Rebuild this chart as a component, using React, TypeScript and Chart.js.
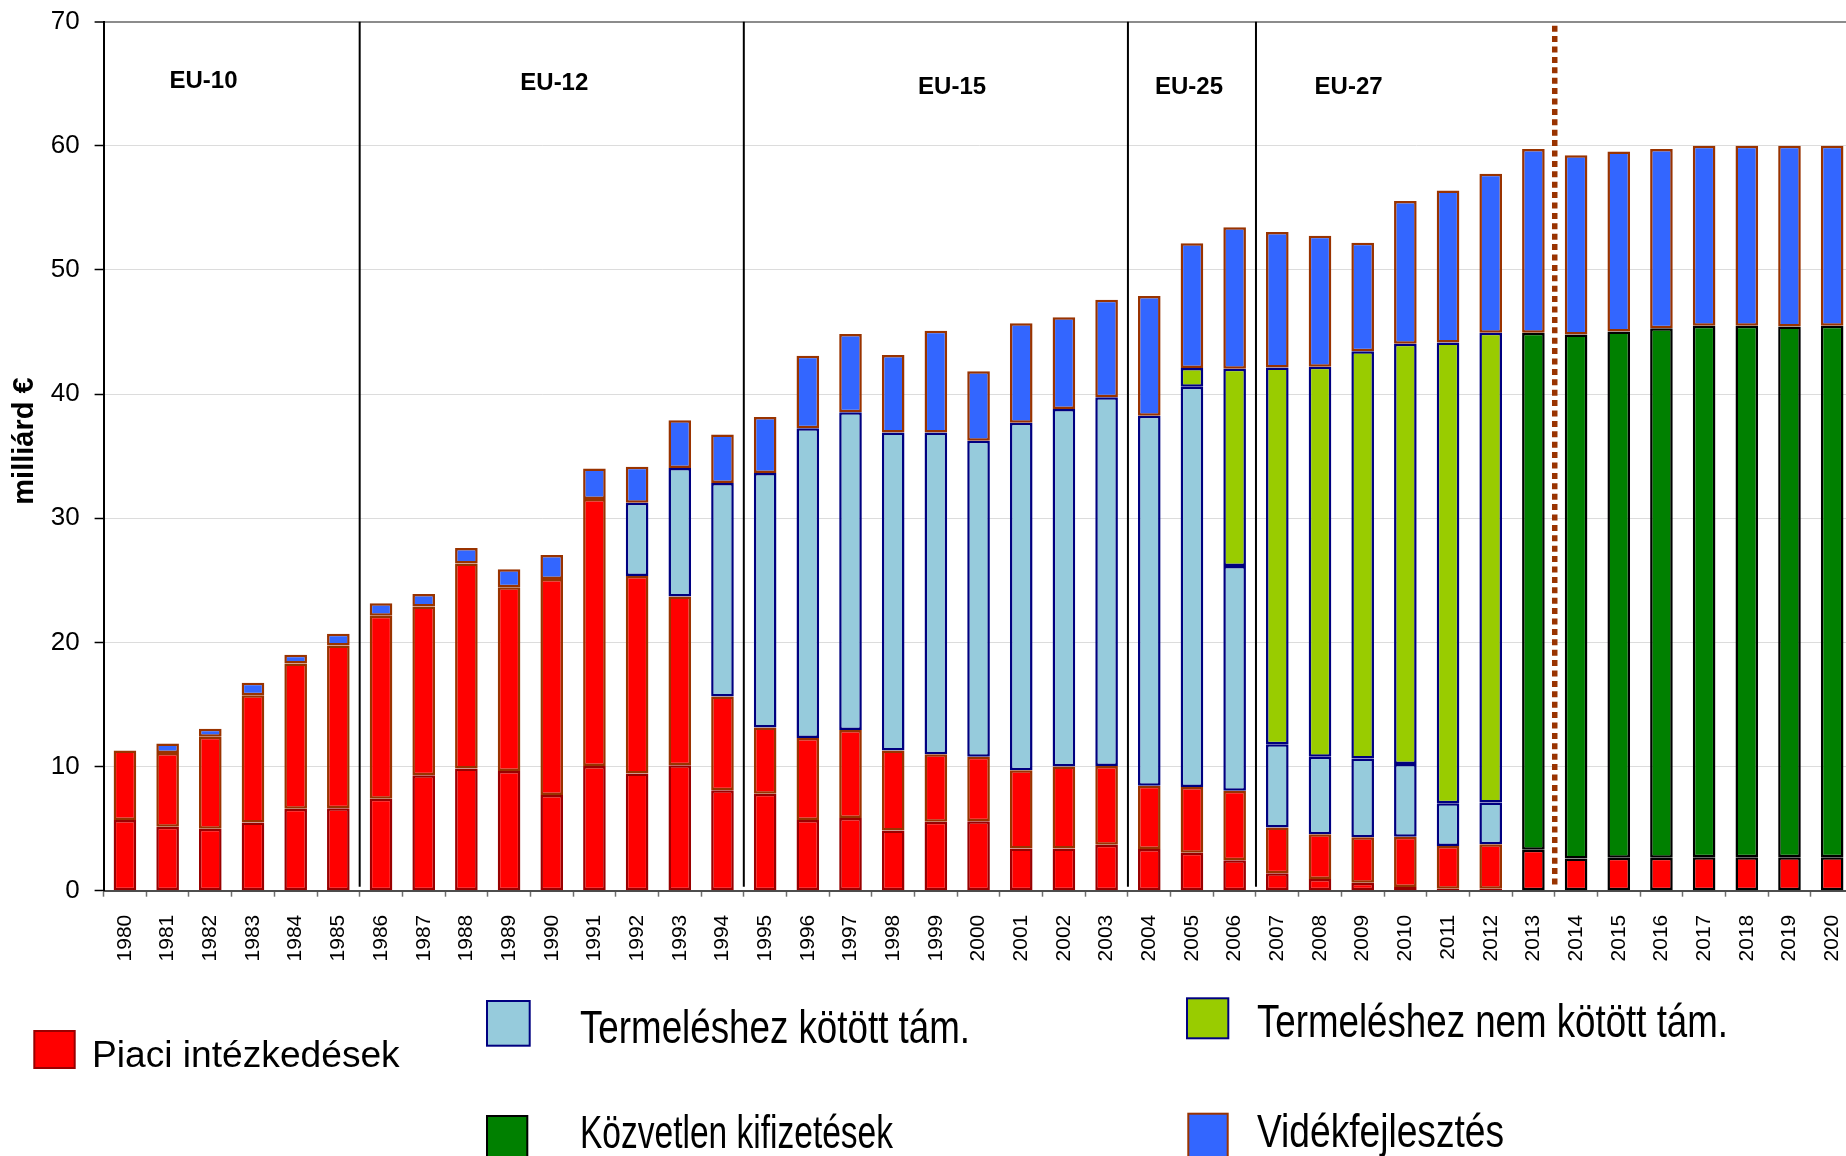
import React, { useEffect, useRef } from "react";
import { Chart, registerables } from "chart.js";

Chart.register(...registerables);

// ---------- DATA ----------
const years = [
  "1980", "1981", "1982", "1983", "1984", "1985", "1986", "1987", "1988", "1989",
  "1990", "1991", "1992", "1993", "1994", "1995", "1996", "1997", "1998", "1999",
  "2000", "2001", "2002", "2003", "2004", "2005", "2006", "2007", "2008", "2009",
  "2010", "2011", "2012", "2013", "2014", "2015", "2016", "2017", "2018", "2019",
  "2020",
];

// Piaci intézkedések – lower red part (incl. post-2013 market measures)
const piaciA = [
  5.7, 5.15, 5.0, 5.5, 6.6, 6.65, 7.4, 9.3, 9.85, 9.65,
  7.7, 10.05, 9.45, 10.1, 8.1, 7.8, 5.7, 5.85, 4.85, 5.55,
  5.6, 3.4, 3.4, 3.7, 3.35, 3.05, 2.45, 1.4, 0.95, 0.65,
  0.3, 0.15, 0.15, 3.3, 2.6, 2.65, 2.65, 2.7, 2.7, 2.7,
  2.7,
];

// Piaci intézkedések – upper red part
const piaciB = [
  5.6, 5.95, 7.4, 10.25, 11.7, 13.1, 14.75, 13.6, 16.5, 14.8,
  17.4, 21.5, 15.9, 13.6, 7.55, 5.35, 6.6, 7.1, 6.45, 5.45,
  5.2, 6.3, 6.6, 6.35, 5.1, 5.3, 5.6, 3.7, 3.6, 3.65,
  4.05, 3.45, 3.6, null, null, null, null, null, null, null,
  null,
];

// Termeléshez kötött támogatás
const kotott = [
  null, null, null, null, null, null, null, null, null, null,
  null, null, 5.9, 10.35, 17.2, 20.5, 24.95, 25.6, 25.6, 25.9,
  25.45, 28.0, 28.8, 29.7, 29.8, 32.25, 18.1, 6.7, 6.25, 6.35,
  5.85, 3.45, 3.35, null, null, null, null, null, null, null,
  null,
];

// Termeléshez nem kötött támogatás
const nemKotott = [
  null, null, null, null, null, null, null, null, null, null,
  null, null, null, null, null, null, null, null, null, null,
  null, null, null, null, null, 1.5, 15.9, 30.35, 31.4, 32.8,
  33.85, 37.1, 37.85, null, null, null, null, null, null, null,
  null,
];

// Közvetlen kifizetések
const kozvetlen = [
  null, null, null, null, null, null, null, null, null, null,
  null, null, null, null, null, null, null, null, null, null,
  null, null, null, null, null, null, null, null, null, null,
  null, null, null, 41.65, 42.2, 42.4, 42.65, 42.8, 42.8, 42.75,
  42.8,
];

// Vidékfejlesztés
const videk = [
  null, 0.75, 0.65, 1.0, 0.7, 0.95, 1.0, 1.0, 1.25, 1.45,
  1.95, 2.45, 2.9, 3.85, 3.9, 4.5, 5.85, 6.3, 6.25, 8.2,
  5.6, 8.0, 7.4, 7.85, 9.65, 10.05, 11.4, 10.9, 10.55, 8.75,
  11.5, 12.25, 12.8, 14.8, 14.45, 14.5, 14.45, 14.5, 14.5, 14.55,
  14.5,
];

const seriesNames = [
  "Piaci intézkedések",
  "Termeléshez kötött tám.",
  "Termeléshez nem kötött tám.",
  "Közvetlen kifizetések",
  "Vidékfejlesztés",
];

const yTitle = "milliárd €";
const periodNames = ["EU-10", "EU-12", "EU-15", "EU-25", "EU-27"];
const periodLineYears = ["1986", "1995", "2004", "2007"];
const periodLabelAt = [1.84, 10.06, 19.38, 24.93, 28.67]; // category positions
const periodLabelLevel = [65.2, 65.0, 64.7, 64.7, 64.7]; // value positions
const newFrameworkYear = "2013";
const forecastFromYear = "2014";

// ---------- STYLE ----------
const FONT = '"Liberation Sans", Arial, Helvetica, sans-serif';
const C = {
  red: "#FF0000",
  redEdgeA: "#990000",
  redEdgeNew: "#000000",
  brown: "#993300",
  lightBlue: "#96CBDC",
  navy: "#000080",
  lime: "#99CC00",
  green: "#008000",
  blue: "#3366FF",
  black: "#000000",
};

const legendItems = [
  { name: 0, fill: C.red, stroke: C.redEdgeA, box: [33.3, 1030, 42.4, 39], tx: 92, ty: 1066.7, size: 37, width: 307.7 },
  { name: 1, fill: C.lightBlue, stroke: C.navy, box: [486, 1000, 44.7, 46.7], tx: 580, ty: 1042.7, size: 46, width: 390 },
  { name: 2, fill: C.lime, stroke: C.navy, box: [1186, 997.3, 43.3, 42], tx: 1257, ty: 1037.3, size: 46, width: 471 },
  { name: 3, fill: C.green, stroke: C.black, box: [486, 1115, 42.3, 46], tx: 580, ty: 1148.3, size: 46, width: 313 },
  { name: 4, fill: C.blue, stroke: C.brown, box: [1187.3, 1112.7, 41.4, 46], tx: 1257, ty: 1146.7, size: 46, width: 247 },
];

const zeroPadding = (s: any) => {
  s.paddingTop = 0;
  s.paddingBottom = 0;
  s.paddingLeft = 0;
  s.paddingRight = 0;
};

const overlayPlugin = {
  id: "overlay",
  afterDraw(chart: any) {
    const { ctx, chartArea, scales } = chart;
    const xs = scales.x;
    const ys = scales.y;
    const boundary = (label: string) => {
      const i = years.indexOf(label);
      return (xs.getPixelForValue(i - 1) + xs.getPixelForValue(i)) / 2;
    };
    ctx.save();

    // period separators
    ctx.strokeStyle = "#000";
    ctx.lineWidth = 2;
    periodLineYears.forEach((l) => {
      const px = boundary(l);
      ctx.beginPath();
      ctx.moveTo(px, chartArea.top);
      ctx.lineTo(px, chartArea.bottom - 4);
      ctx.stroke();
    });

    // forecast dotted line
    const fx = boundary(forecastFromYear);
    ctx.strokeStyle = C.brown;
    ctx.lineWidth = 5.5;
    ctx.setLineDash([6, 4.4]);
    ctx.beginPath();
    ctx.moveTo(fx, chartArea.top + 4);
    ctx.lineTo(fx, chartArea.bottom - 4);
    ctx.stroke();
    ctx.setLineDash([]);

    // period labels
    ctx.fillStyle = "#000";
    ctx.font = `bold 24px ${FONT}`;
    ctx.textAlign = "center";
    ctx.textBaseline = "middle";
    periodNames.forEach((t, k) => {
      ctx.fillText(t, xs.getPixelForValue(periodLabelAt[k]), ys.getPixelForValue(periodLabelLevel[k]));
    });

    // y title
    ctx.save();
    ctx.translate(25, 441);
    ctx.rotate(-Math.PI / 2);
    ctx.font = `bold 29px ${FONT}`;
    ctx.fillText(yTitle, 0, 0);
    ctx.restore();

    // legend
    legendItems.forEach((it) => {
      const [bx, by, bw, bh] = it.box;
      ctx.fillStyle = it.stroke;
      ctx.fillRect(bx, by, bw, bh);
      ctx.fillStyle = it.fill;
      ctx.fillRect(bx + 2, by + 2, bw - 4, bh - 4);
      const text = seriesNames[it.name];
      ctx.font = `${it.size}px ${FONT}`;
      ctx.textAlign = "left";
      ctx.textBaseline = "alphabetic";
      ctx.fillStyle = "#000";
      const w = ctx.measureText(text).width;
      ctx.save();
      ctx.translate(it.tx, it.ty);
      ctx.scale(it.width / w, 1);
      ctx.fillText(text, 0, 0);
      ctx.restore();
    });

    ctx.restore();
  },
};

export default function App() {
  const ref = useRef<HTMLCanvasElement | null>(null);

  useEffect(() => {
    if (!ref.current) return;
    const newIdx = years.indexOf(newFrameworkYear);
    const chart = new Chart(ref.current, {
      type: "bar",
      data: {
        labels: years,
        datasets: [
          {
            label: seriesNames[0],
            data: piaciA,
            backgroundColor: C.red,
            borderColor: (c: any) => (c.dataIndex >= newIdx ? C.redEdgeNew : C.redEdgeA),
          },
          { label: seriesNames[0] + " ", data: piaciB, backgroundColor: C.red, borderColor: C.brown },
          { label: seriesNames[1], data: kotott, backgroundColor: C.lightBlue, borderColor: C.navy },
          { label: seriesNames[2], data: nemKotott, backgroundColor: C.lime, borderColor: C.navy },
          { label: seriesNames[3], data: kozvetlen, backgroundColor: C.green, borderColor: C.black },
          { label: seriesNames[4], data: videk, backgroundColor: C.blue, borderColor: C.brown },
        ] as any,
      },
      options: {
        responsive: false,
        animation: false,
        events: [],
        layout: { padding: { left: 0, right: 6.5, top: 21.7, bottom: 145.3 } },
        datasets: {
          bar: {
            barPercentage: 0.53,
            categoryPercentage: 1.0,
            borderSkipped: false,
            borderWidth: 2.5,
          },
        } as any,
        plugins: {
          legend: { display: false },
          tooltip: { enabled: false },
          title: { display: false },
        },
        scales: {
          x: {
            stacked: true,
            offset: true,
            grid: {
              offset: true,
              drawOnChartArea: false,
              drawTicks: true,
              tickLength: 6,
              tickColor: "#6f6f6f",
              tickWidth: 1.5,
            },
            border: { display: true, color: "#4d4d4d", width: 2 },
            ticks: {
              autoSkip: false,
              minRotation: 90,
              maxRotation: 90,
              padding: 18,
              color: "#000",
              font: { family: FONT, size: 21 },
            },
            afterFit: (s: any) => {
              s.height = 120;
              zeroPadding(s);
            },
          },
          y: {
            stacked: true,
            min: 0,
            max: 70,
            ticks: {
              stepSize: 10,
              padding: 15,
              color: "#000",
              font: { family: FONT, size: 26 },
            },
            grid: {
              color: (c: any) =>
                c.tick && c.tick.value === 70 ? "#8c8c8c" : c.tick && c.tick.value === 0 ? "rgba(0,0,0,0)" : "#dcdcdc",
              lineWidth: (c: any) => (c.tick && c.tick.value === 70 ? 2 : 1),
              tickColor: "#000",
              tickLength: 9,
              tickWidth: 1.5,
            },
            border: { display: true, color: "#000", width: 2 },
            afterFit: (s: any) => {
              s.width = 103.6;
              zeroPadding(s);
            },
          },
        },
      } as any,
      plugins: [overlayPlugin],
    });
    return () => chart.destroy();
  }, []);

  return (
    <div
      style={{
        position: "fixed",
        left: 0,
        top: 0,
        width: 1846,
        height: 1156,
        overflow: "hidden",
        background: "#fff",
      }}
    >
      <canvas
        ref={ref}
        width={1860}
        height={1156}
        style={{ display: "block", width: "1860px", height: "1156px" }}
      />
    </div>
  );
}
